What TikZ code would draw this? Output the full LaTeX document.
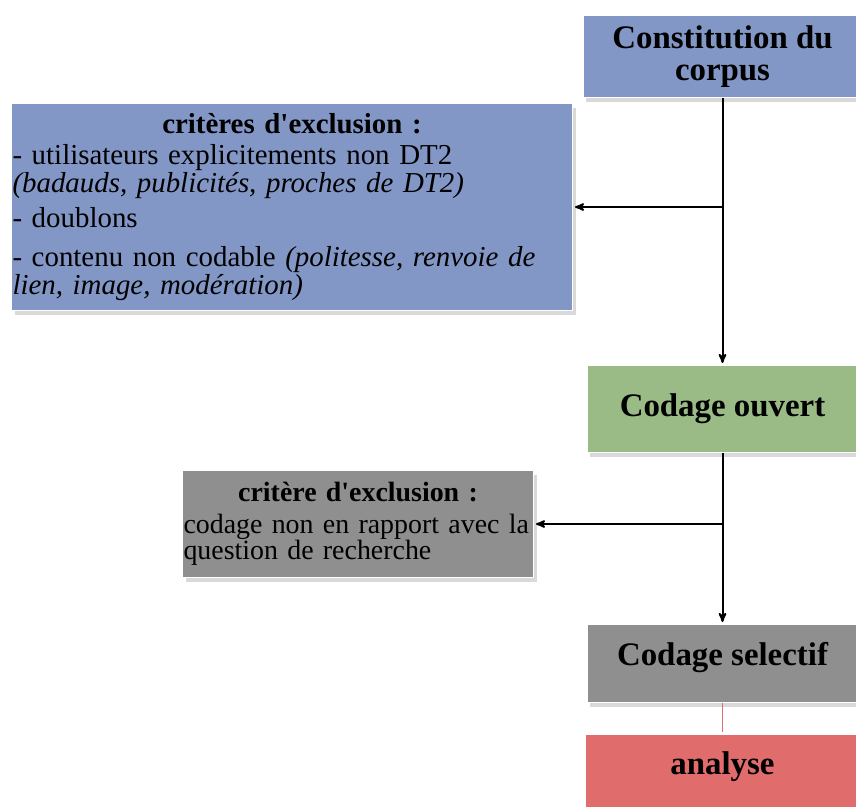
\documentclass[tikz,border=0pt]{standalone}
\usepackage{fontspec}
\setmainfont{Liberation Serif}[Ligatures=TeXOff]
\usepackage{tikz}
\usetikzlibrary{arrows,positioning,shadows}
\definecolor{bleu}{HTML}{8297C6}
\definecolor{vert}{HTML}{9BBB86}
\definecolor{gris}{HTML}{8F8F8F}
\definecolor{rouge}{HTML}{E06C6C}
\tikzset{
    etape/.style={
           rectangle,
           draw=white, line width=1bp,
           inner sep=2bp,
           align=center,
           font=\fontsize{33}{32}\selectfont\bfseries,
           drop shadow={shadow xshift=2bp,shadow yshift=-4bp,opacity=.3},
           },
    critere/.style={
           rectangle,
           draw=white, line width=1bp,
           inner xsep=1bp,
           align=left,
           drop shadow={shadow xshift=3bp,shadow yshift=-4bp,opacity=.3},
           },
}

\begin{document}
\begin{tikzpicture}[->,>=stealth',shorten >=2pt,auto,
                    x=1bp,y=-1bp,
                    line width=2bp]

  \useasboundingbox (0,0) rectangle (856,807);

  \node[etape,fill=bleu,minimum width=278bp,minimum height=82bp,anchor=north west]
        (corpus) at (583,15) {Constitution du\\corpus};
  \node[etape,fill=vert,minimum width=270bp,minimum height=87bp]
        (ouvert) [below=267bp of corpus] {Codage ouvert};
  \node[etape,fill=gris,minimum width=270bp,minimum height=78bp,text depth=20bp]
        (selectif) [below=171bp of ouvert] {Codage selectif};
  \node[etape,fill=rouge,minimum width=274bp,minimum height=80bp,text depth=22bp]
        (analyse) [below=31bp of selectif] {analyse};

  \node[critere,fill=bleu,text width=559bp,minimum height=207bp,anchor=north west,
        font=\fontsize{29}{28}\selectfont]
        (crit1) at (11,103) {\makebox[\linewidth]{\bfseries critères d'exclusion :}\\[3bp]
        - utilisateurs explicitements non DT2\\
        \textit{(badauds, publicités, proches de DT2)}\\[7bp]
        - doublons\\[11bp]
        - contenu non codable \textit{(politesse, renvoie de}\\
        \textit{lien, image, modération)}};
  \node[critere,fill=gris,text width=349bp,minimum height=107bp,anchor=north west,
        font=\fontsize{28}{25}\selectfont]
        (crit2) at (182,470) {\makebox[\linewidth]{\bfseries critère d'exclusion :}\\[7bp]
        codage non en rapport avec la\\
        question de recherche};

  \coordinate (j1) at (corpus.south |- crit1.east);
  \coordinate (j2) at (ouvert.south |- crit2.east);

  \path (corpus) edge (ouvert);
  \path (j1) edge (crit1.east);
  \path (ouvert) edge (selectif);
  \path (j2) edge (crit2.east);
  \path (selectif) edge[-,rouge,line width=1.5bp] (analyse);

\end{tikzpicture}
\end{document}
